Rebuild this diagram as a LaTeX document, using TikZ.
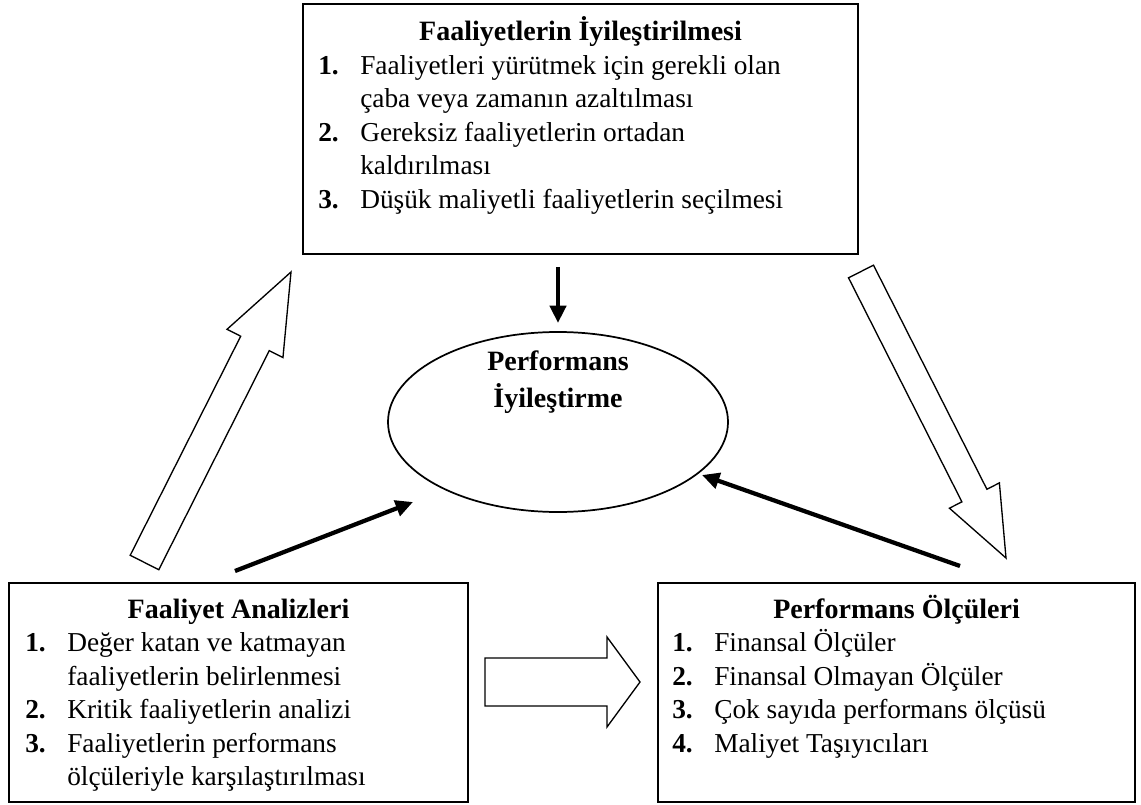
\documentclass[tikz,border=0pt]{standalone}
\usepackage{fontspec}
\setmainfont{Liberation Serif}
\usetikzlibrary{calc,arrows.meta,shapes.geometric}

% Block arrow: tail centre, tip, half shaft width, half head width, head length
\newcommand\blockarrow[5]{%
  \coordinate (ba-neck) at ($(#2)!#5!(#1)$);
  \draw[hollowarrow]
    ($(#1)!#3!90:(#2)$) -- ($(ba-neck)!#3!90:(#2)$) -- ($(ba-neck)!#4!90:(#2)$)
    -- (#2) --
    ($(ba-neck)!#4!-90:(#2)$) -- ($(ba-neck)!#3!-90:(#2)$) -- ($(#1)!#3!-90:(#2)$) -- cycle;
}

\tikzset{
  box/.style={draw, line width=1.3pt, inner sep=0pt},
  linetext/.style={anchor=base west, inner sep=0pt, font=\fontsize{20.5}{25}\selectfont},
  numtext/.style={anchor=base west, inner sep=0pt, font=\fontsize{20.5}{25}\selectfont\bfseries},
  titletext/.style={anchor=base, inner sep=0pt, font=\fontsize{21}{25}\selectfont\bfseries},
  solidarrow/.style={line width=3.2pt, -{Triangle[width=12pt,length=13pt]}},
  hollowarrow/.style={draw, line width=1pt, fill=white, line join=miter},
}

\begin{document}
\begin{tikzpicture}[x=0.75pt,y=-0.75pt]
\useasboundingbox (0,0) rectangle (1141,805);

% ---------- top box ----------
\node[box, minimum width=416.25pt, minimum height=187.5pt] (topbox) at (580.5,129) {};
\node[titletext] (toptitle) at (580.5,41) {Faaliyetlerin İyileştirilmesi};
\node[numtext]  (tn1) at (318,74.5)  {1.};
\node[linetext] (tl1) at (360,74.5)  {Faaliyetleri yürütmek için gerekli olan};
\node[linetext] (tl2) at (360,108)   {çaba veya zamanın azaltılması};
\node[numtext]  (tn2) at (318,141.5) {2.};
\node[linetext] (tl3) at (360,141.5) {Gereksiz faaliyetlerin ortadan};
\node[linetext] (tl4) at (360,175)   {kaldırılması};
\node[numtext]  (tn3) at (318,208.5) {3.};
\node[linetext] (tl5) at (360,208.5) {Düşük maliyetli faaliyetlerin seçilmesi};

% ---------- bottom left box ----------
\node[box, minimum width=344.25pt, minimum height=164.25pt] (leftbox) at (238.5,692.5) {};
\node[titletext] (lefttitle) at (238.5,618) {Faaliyet Analizleri};
\node[numtext]  (ln1) at (25,651.5)  {1.};
\node[linetext] (ll1) at (67,651.5)  {Değer katan ve katmayan};
\node[linetext] (ll2) at (67,685)    {faaliyetlerin belirlenmesi};
\node[numtext]  (ln2) at (25,718.5)  {2.};
\node[linetext] (ll3) at (67,718.5)  {Kritik faaliyetlerin analizi};
\node[numtext]  (ln3) at (25,752)    {3.};
\node[linetext] (ll4) at (67,752)    {Faaliyetlerin performans};
\node[linetext] (ll5) at (67,785.5)  {ölçüleriyle karşılaştırılması};

% ---------- bottom right box ----------
\node[box, minimum width=357.75pt, minimum height=164.25pt] (rightbox) at (896.5,692.5) {};
\node[titletext] (righttitle) at (896.5,618) {Performans Ölçüleri};
\node[numtext]  (rn1) at (672,651.5) {1.};
\node[linetext] (rl1) at (714,651.5) {Finansal Ölçüler};
\node[numtext]  (rn2) at (672,685)   {2.};
\node[linetext] (rl2) at (714,685)   {Finansal Olmayan Ölçüler};
\node[numtext]  (rn3) at (672,718.5) {3.};
\node[linetext] (rl3) at (714,718.5) {Çok sayıda performans ölçüsü};
\node[numtext]  (rn4) at (672,752)   {4.};
\node[linetext] (rl4) at (714,752)   {Maliyet Taşıyıcıları};

% ---------- central ellipse ----------
\node[draw, ellipse, line width=1.3pt, minimum width=255pt, minimum height=135pt, inner sep=0pt] (perf) at (558,422) {};
\node[anchor=center, align=center, inner sep=0pt, font=\fontsize{21}{28}\selectfont\bfseries] (perftext) at (558,382) {Performans\\İyileştirme};

% ---------- solid arrows into the ellipse ----------
\coordinate (downstart) at (558,267);
\coordinate (downend)   at (558,323);
\coordinate (lstart) at (235,571);
\coordinate (lend)   at (413,502);
\coordinate (rstart) at (960,566);
\coordinate (rend)   at (702,475);
\draw[solidarrow] (downstart) -- (downend);
\draw[solidarrow] (lstart) -- (lend);
\draw[solidarrow] (rstart) -- (rend);

% ---------- block arrows between the boxes ----------
\coordinate (upltail) at (144.5,562.5);
\coordinate (upltip)  at (291,272);
\blockarrow{upltail}{upltip}{12pt}{23.5pt}{60pt}

\coordinate (dnrtail) at (861,271.5);
\coordinate (dnrtip)  at (1006,558);
\blockarrow{dnrtail}{dnrtip}{10.5pt}{21pt}{52.5pt}

\coordinate (midtail) at (485,682);
\coordinate (midtip)  at (640,682);
\blockarrow{midtail}{midtip}{18pt}{33.75pt}{24.75pt}

\end{tikzpicture}
\end{document}
